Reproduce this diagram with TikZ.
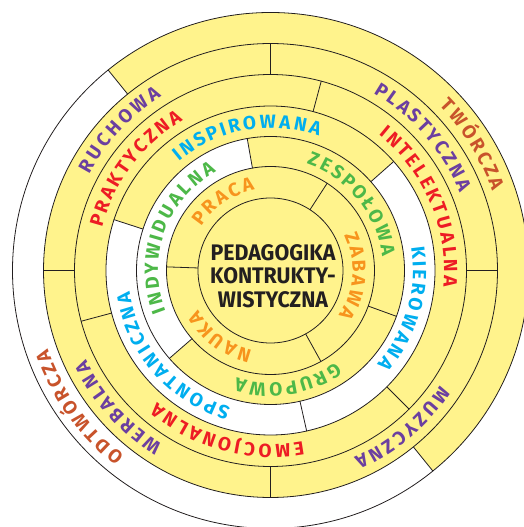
\documentclass[tikz,border=0pt]{standalone}
\usepackage{fontspec}
\setmainfont{Fira Sans}
\newfontfamily\titlefont[FakeStretch=0.95]{Fira Sans}
\newfontfamily\ringfont[Scale=1.9]{Fira Sans}
\definecolor{ringyellow}{RGB}{255,243,140}
\definecolor{inkline}{RGB}{35,31,32}
\definecolor{cOrange}{RGB}{247,148,29}
\definecolor{cGreen}{RGB}{77,184,72}
\definecolor{cCyan}{RGB}{0,174,239}
\definecolor{cRed}{RGB}{237,28,36}
\definecolor{cPurple}{RGB}{107,63,160}
\definecolor{cBrown}{RGB}{200,83,43}
% pitch of each letter along the ring
\foreach \l/\p in {I/8.5,J/10,L/13,E/13.5,W/20,M/19,O/16.5,Ó/16.5,Ł/13.5,C/14.5,S/13.5,
    Z/13.5,T/13.5,Y/14,N/16,K/15,H/16.5,D/16,U/16,R/15,P/14.5,A/15,B/15,G/16}
  {\expandafter\xdef\csname cp\l\endcsname{\p}}
\newcommand\charpitch[1]{\ifcsname cp#1\endcsname\csname cp#1\endcsname\else 15\fi}
% name, radius of the baseline, middle angle, colour, letters
\newcommand\ringword[5]{%
  \gdef\wordwd{0}%
  \foreach \ch in {#5}{\edef\cw{\charpitch{\ch}}%
    \pgfmathsetmacro\tmp{\wordwd+\cw}\xdef\wordwd{\tmp}}%
  \gdef\wordpos{0}%
  \foreach \ch [count=\i] in {#5}{\edef\cw{\charpitch{\ch}}%
    \pgfmathsetmacro\chang{#3+(0.5*\wordwd-\wordpos-0.5*\cw)/(#2+6.5)*57.29578}%
    \node[letter,text=#4,rotate=\chang-90] (#1-\i) at (\chang:#2) {\ch};
    \pgfmathsetmacro\tmp{\wordpos+\cw}\xdef\wordpos{\tmp}}}
\begin{document}
\begin{tikzpicture}[x=1pt,y=1pt,line join=round,line cap=round,
  ring/.style={draw=inkline,line width=0.8pt},
  cut/.style={draw=inkline,line width=0.8pt},
  letter/.style={anchor=base,inner sep=0pt,font=\ringfont\bfseries}]
\useasboundingbox (-270.5,-256.5) rectangle (253.5,270.5);
\clip (-270.5,-256.5) rectangle (253.5,270.5);
% yellow and white fields
\fill[ringyellow] (0,0) circle[radius=227];
\fill[ringyellow] (-51:227) arc[start angle=-51,end angle=129,radius=227]
  -- (129:258) arc[start angle=129,end angle=-51,radius=258] -- cycle;
\fill[white] (100:104) arc[start angle=100,end angle=221,radius=104]
  -- (221:134) arc[start angle=221,end angle=100,radius=134] -- cycle;
\fill[white] (162:134) arc[start angle=162,end angle=401.5,radius=134]
  -- (401.5:164.5) arc[start angle=401.5,end angle=162,radius=164.5] -- cycle;
% circles
\foreach \r in {72.5,104,134,164.5,196,227,258}
  \draw[ring] (0,0) circle[radius=\r];
% dividers
\foreach \a/\ri/\ro in {57/72.5/104,178/72.5/104,299/72.5/104,
    100/104/134,221/104/134,340/104/134,
    41.5/134/164.5,162/134/164.5,282.7/134/164.5,
    75/164.5/196,195/164.5/196,315/164.5/196,
    0/196/227,90/196/227,180/196/227,270/196/227,
    129/227/258,309/227/258}
  \draw[cut] (\a:\ri) -- (\a:\ro);
% words
\ringword{praca}{82}{124}{cOrange}{P,R,A,C,A}
\ringword{zabawa}{82}{-4}{cOrange}{Z,A,B,A,W,A}
\ringword{nauka}{82}{233}{cOrange}{N,A,U,K,A}
\ringword{indyw}{112.5}{160}{cGreen}{I,N,D,Y,W,I,D,U,A,L,N,A}
\ringword{zesp}{112.5}{39}{cGreen}{Z,E,S,P,O,Ł,O,W,A}
\ringword{grupowa}{112.5}{279}{cGreen}{G,R,U,P,O,W,A}
\ringword{inspir}{142.5}{100}{cCyan}{I,N,S,P,I,R,O,W,A,N,A}
\ringword{kier}{142.5}{-16}{cCyan}{K,I,E,R,O,W,A,N,A}
\ringword{spont}{142.5}{221}{cCyan}{S,P,O,N,T,A,N,I,C,Z,N,A}
\ringword{prakt}{173.5}{143}{cRed}{P,R,A,K,T,Y,C,Z,N,A}
\ringword{intel}{173.5}{23}{cRed}{I,N,T,E,L,E,K,T,U,A,L,N,A}
\ringword{emocj}{173.5}{255}{cRed}{E,M,O,C,J,O,N,A,L,N,A}
\ringword{ruchowa}{205}{137}{cPurple}{R,U,C,H,O,W,A}
\ringword{plast}{205}{41}{cPurple}{P,L,A,S,T,Y,C,Z,N,A}
\ringword{muzycz}{205}{310}{cPurple}{M,U,Z,Y,C,Z,N,A}
\ringword{werbal}{205}{222}{cPurple}{W,E,R,B,A,L,N,A}
\ringword{tworcza}{236}{32}{cBrown}{T,W,Ó,R,C,Z,A}
\ringword{odtw}{236}{215.5}{cBrown}{O,D,T,W,Ó,R,C,Z,A}
\node[align=center,text=inkline,inner sep=0pt,
  font=\titlefont\bfseries\fontsize{22.5}{23.3}\selectfont] (title) at (2.5,-5.5)
  {PEDAGOGIKA\\KONTRUKTY-\\WISTYCZNA};
\end{tikzpicture}
\end{document}
